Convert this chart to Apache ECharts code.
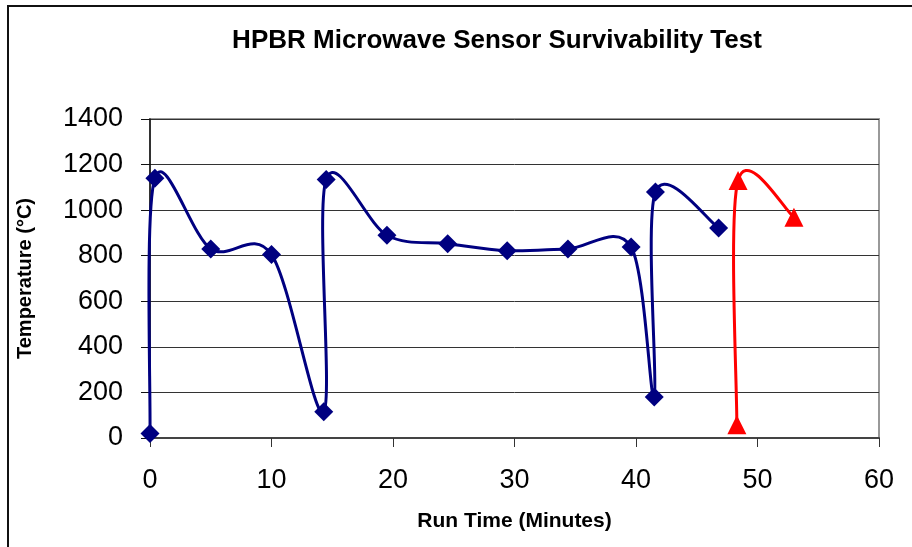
<!DOCTYPE html>
<html>
<head>
<meta charset="utf-8">
<script src="https://cdn.jsdelivr.net/npm/echarts@6/dist/echarts.min.js"></script>
<style>
  html, body { margin: 0; padding: 0; background: #fff; }
  #chart { width: 912px; height: 547px; }
</style>
</head>
<body>
<div id="chart"></div>
<script>
// series 1 (blue diamonds)
const blueTime = [0, 0.4, 5, 10, 14.3, 14.5, 19.5, 24.5, 29.4, 34.4, 39.6, 41.5, 41.6, 46.8]
const blueTemp = [20, 1140, 830, 805, 115, 1135, 890, 853, 822, 830, 838, 180, 1080, 922]
// series 2 (red triangles)
const redTime = [48.3, 48.4, 53]
const redTemp = [58, 1130, 969]

const xTicks = { min : 0, max : 60, interval : 10 }
const yTicks = { min : 0, max : 1400, interval : 200 }

const pairs = ( xs, ys ) => xs.map( ( x, i ) => [x, ys[i]] )
const bluePts = pairs( blueTime, blueTemp )
const redPts = pairs( redTime, redTemp )

const font = 'Liberation Sans, Arial, sans-serif'

// spreadsheet-style smoothed line: one bezier per segment, control points
// from the neighbouring points (tension 1/6), in pixel space
const smoothSegment = ( pts, color ) => ( params, api ) => {
  const i = params.dataIndex
  if ( i >= pts.length - 1 ) return null
  const c = k => api.coord( pts[Math.max( 0, Math.min( pts.length - 1, k ) )] )
  const p0 = c( i - 1 )
  const p1 = c( i )
  const p2 = c( i + 1 )
  const p3 = c( i + 2 )
  const t = 1 / 6
  return {
    type : 'bezierCurve',
    shape : {
      x1 : p1[0],
      y1 : p1[1],
      cpx1 : p1[0] + ( p2[0] - p0[0] ) * t,
      cpy1 : p1[1] + ( p2[1] - p0[1] ) * t,
      cpx2 : p2[0] - ( p3[0] - p1[0] ) * t,
      cpy2 : p2[1] - ( p3[1] - p1[1] ) * t,
      x2 : p2[0],
      y2 : p2[1]
    },
    style : { stroke : color, lineWidth : 3, fill : 'none', lineJoin : 'round', lineCap : 'round' }
  }
}

const chart = echarts.init( document.getElementById( 'chart' ) )

chart.setOption( {
  backgroundColor : '#fff',
  animation : false,
  title : {
    text : 'HPBR Microwave Sensor Survivability Test',
    left : 497,
    top : 28,
    padding : 0,
    textAlign : 'center',
    textStyle : {
      fontFamily : font,
      fontWeight : 'bold',
      fontSize : 26,
      color : '#000'
    }
  },
  graphic : [
    {
      type : 'rect',
      silent : true,
      shape : { x : 8, y : 6, width : 1000, height : 1000 },
      style : { fill : 'none', stroke : '#111', lineWidth : 2 }
    }
  ],
  grid : {
    left : 150,
    right : 33,
    top : 119,
    bottom : 109,
    show : true,
    borderColor : '#999',
    borderWidth : 2
  },
  xAxis : {
    type : 'value',
    min : xTicks.min,
    max : xTicks.max,
    interval : xTicks.interval,
    name : 'Run Time (Minutes)',
    nameLocation : 'middle',
    nameGap : 73,
    nameTextStyle : {
      fontFamily : font,
      fontWeight : 'bold',
      fontSize : 21,
      color : '#000'
    },
    axisLine : { lineStyle : { color : '#444', width : 2 } },
    axisTick : { show : true, length : 9, lineStyle : { color : '#333' } },
    axisLabel : {
      margin : 29,
      fontFamily : font,
      fontSize : 27,
      color : '#000'
    },
    splitLine : { show : false }
  },
  yAxis : {
    type : 'value',
    min : yTicks.min,
    max : yTicks.max,
    interval : yTicks.interval,
    name : 'Temperature (°C)',
    nameLocation : 'middle',
    nameGap : 115,
    nameTextStyle : {
      fontFamily : font,
      fontWeight : 'bold',
      fontSize : 20,
      color : '#000'
    },
    axisLine : { show : true, lineStyle : { color : '#111', width : 1.5 } },
    axisTick : { show : true, length : 9, lineStyle : { color : '#111' } },
    axisLabel : {
      margin : 27,
      fontFamily : font,
      fontSize : 27,
      color : '#000',
      formatter : v => String( v )
    },
    splitLine : { show : true, lineStyle : { color : '#333', width : 1 } }
  },
  series : [
    {
      name : 'Sensor 1 line',
      type : 'custom',
      renderItem : smoothSegment( bluePts, '#000080' ),
      data : bluePts,
      z : 3
    },
    {
      name : 'Sensor 2 line',
      type : 'custom',
      renderItem : smoothSegment( redPts, '#ff0000' ),
      data : redPts,
      z : 3
    },
    {
      name : 'Sensor 1',
      type : 'scatter',
      data : bluePts,
      symbol : 'diamond',
      symbolSize : 19,
      itemStyle : { color : '#000080', opacity : 1 },
      z : 4
    },
    {
      name : 'Sensor 2',
      type : 'scatter',
      data : redPts,
      symbol : 'triangle',
      symbolSize : 19,
      itemStyle : { color : '#ff0000', opacity : 1 },
      z : 4
    }
  ]
} )
</script>
</body>
</html>
